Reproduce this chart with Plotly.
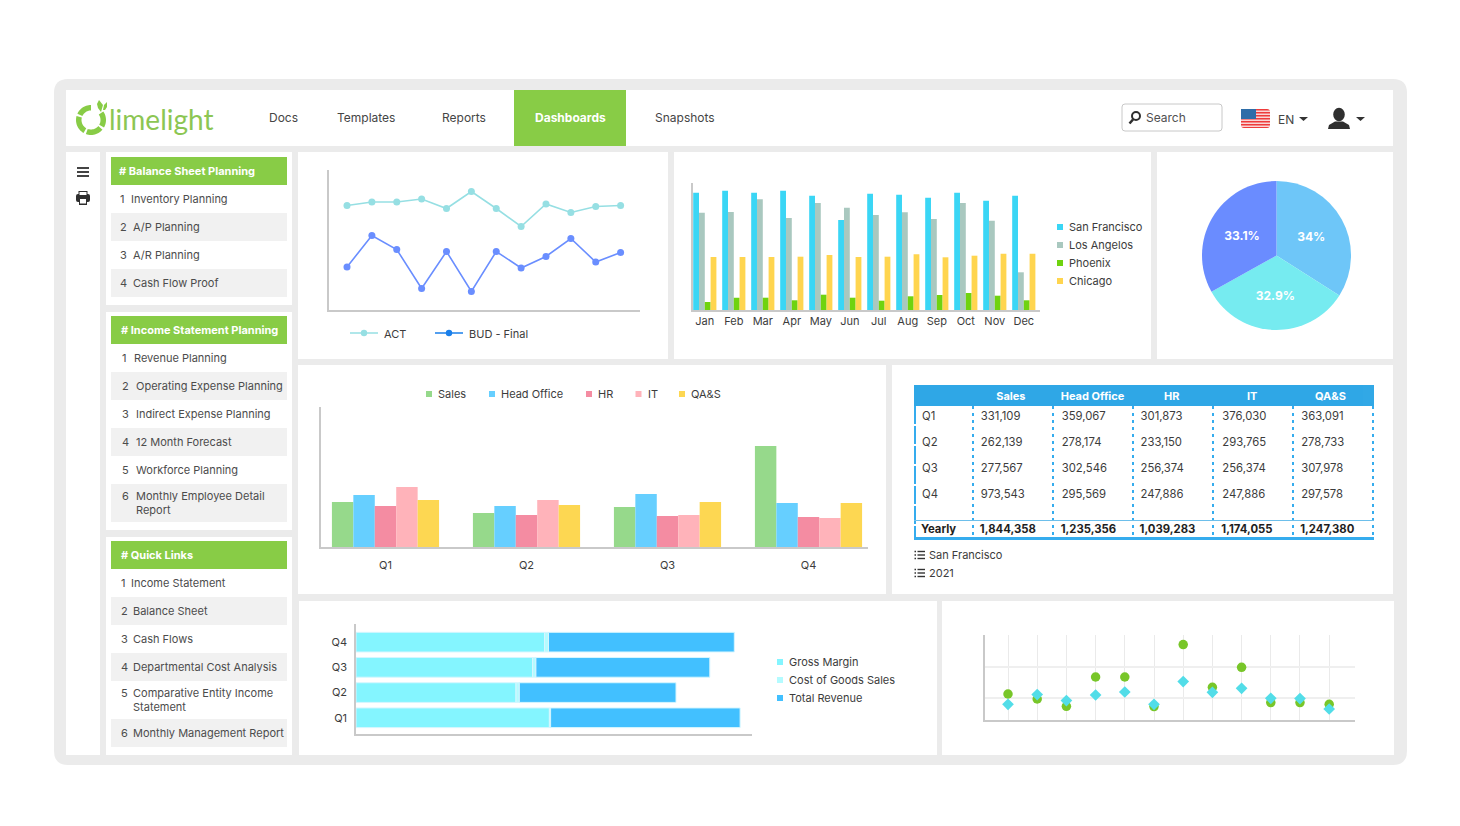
import math
import plotly.graph_objects as go

W = 1440
H = 800
FONT = "Inter"

months = ["Jan", "Feb", "Mar", "Apr", "May", "Jun", "Jul", "Aug", "Sep", "Oct", "Nov", "Dec"]
quarters = ["Q1", "Q2", "Q3", "Q4"]

act = [104, 107.5, 107.5, 110.5, 101, 118, 101, 83, 105.5, 97, 103, 104]
bud = [42.5, 74, 60, 21, 58, 18, 58, 41.5, 53, 71, 47.5, 57]

san_francisco = [117.3, 119.3, 117.3, 119.3, 114.3, 90, 116.3, 115.3, 112.3, 117.3, 109.3, 114.3]
los_angelos = [97.3, 98, 110.7, 92, 107, 102.3, 95, 97.7, 91, 107, 89.3, 37.7]
phoenix = [8, 12.3, 12.3, 9.7, 15.3, 12.3, 9.3, 13.7, 15, 17, 14.3, 9.7]
chicago = [53, 53, 53, 53.3, 55, 53, 53.3, 55.7, 52.7, 54.3, 56.3, 56.3]

pie_labels = ["Blue", "Teal", "Indigo"]
pie_values = [34, 32.9, 33.1]
pie_text = ["34%", "32.9%", "33.1%"]

sales = [45, 34, 40, 101]
head_office = [52, 41, 53, 44]
hr = [41, 32, 31, 30]
it = [60, 47, 32, 29]
qas = [47, 42, 45, 44]

table_head = ["", "Sales", "Head\u00a0Office", "HR", "IT", "QA&S"]
table_rows = ["Q1", "Q2", "Q3", "Q4"]
table_sales = ["331,109", "262,139", "277,567", "973,543"]
table_head_office = ["359,067", "278,174", "302,546", "295,569"]
table_hr = ["301,873", "233,150", "256,374", "247,886"]
table_it = ["376,030", "293,765", "256,374", "247,886"]
table_qas = ["363,091", "278,733", "307,978", "297,578"]
table_yearly = ["Yearly", "1,844,358", "1,235,356", "1,039,283", "1,174,055", "1,247,380"]

gross_margin = [193.4, 160, 176.5, 188.5]
cost_of_goods = [1.2, 3.3, 3.4, 4]
total_revenue = [189.5, 156.7, 173.9, 185.8]

scatter_x = list(range(12))
scatter_circle = [26.3, 21.3, 14, 43.3, 43.3, 13.7, 75.7, 33, 53, 17.7, 17.7, 16]
scatter_diamond = [16, 25.7, 19.7, 25.3, 28.3, 16, 38.7, 28, 32, 22, 21.7, 11.3]

nav_items = ["Docs", "Templates", "Reports", "Dashboards", "Snapshots"]
nav_x = [269, 337, 442, 535, 655]

group1 = [("1", "Inventory Planning"), ("2", "A/P Planning"), ("3", "A/R Planning"), ("4", "Cash Flow Proof")]
group2 = [("1", "Revenue Planning"), ("2", "Operating Expense Planning"), ("3", "Indirect Expense Planning"),
          ("4", "12 Month Forecast"), ("5", "Workforce Planning"), ("6", "Monthly Employee Detail<br>Report")]
group3 = [("1", "Income Statement"), ("2", "Balance Sheet"), ("3", "Cash Flows"),
          ("4", "Departmental Cost Analysis"), ("5", "Comparative Entity Income<br>Statement"),
          ("6", "Monthly Management Report")]

GREEN = "#88CC46"
FRAME = "#EBEBEB"
ROW = "#F1F1F1"
AXIS = "#C9C9C9"
TEXT = "#3C3C3C"
BLUE = "#2FA7E6"

shapes = []
annots = []


# page is opened with an 8px body margin, everything below is in page pixels
def X(px):
    return (px - 8) / W


def Y(py):
    return 1 - (py - 8) / H


def rect(x0, y0, x1, y1, color, layer="below"):
    shapes.append(dict(type="rect", xref="paper", yref="paper", x0=X(x0), x1=X(x1), y0=Y(y0), y1=Y(y1),
                       fillcolor=color, line_width=0, layer=layer))


def rrect(x0, y0, x1, y1, r, fill, line=None, layer="below"):
    p = (f"M {X(x0 + r)} {Y(y0)} L {X(x1 - r)} {Y(y0)} Q {X(x1)} {Y(y0)} {X(x1)} {Y(y0 + r)} "
         f"L {X(x1)} {Y(y1 - r)} Q {X(x1)} {Y(y1)} {X(x1 - r)} {Y(y1)} L {X(x0 + r)} {Y(y1)} "
         f"Q {X(x0)} {Y(y1)} {X(x0)} {Y(y1 - r)} L {X(x0)} {Y(y0 + r)} Q {X(x0)} {Y(y0)} {X(x0 + r)} {Y(y0)} Z")
    shapes.append(dict(type="path", xref="paper", yref="paper", path=p, fillcolor=fill,
                       line=dict(color=line or fill, width=1 if line else 0), layer=layer))


def poly(points, color, layer="above"):
    p = "M " + " L ".join(f"{X(a)} {Y(b)}" for a, b in points) + " Z"
    shapes.append(dict(type="path", xref="paper", yref="paper", path=p, fillcolor=color, line_width=0, layer=layer))


def line(x0, y0, x1, y1, color, width=1, dash="solid", layer="above"):
    shapes.append(dict(type="line", xref="paper", yref="paper", x0=X(x0), x1=X(x1), y0=Y(y0), y1=Y(y1),
                       line=dict(color=color, width=width, dash=dash), layer=layer))


def oval(cx, cy, rx, ry, fill, stroke=None, width=0, layer="above"):
    shapes.append(dict(type="circle", xref="paper", yref="paper", x0=X(cx - rx), x1=X(cx + rx),
                       y0=Y(cy - ry), y1=Y(cy + ry), fillcolor=fill,
                       line=dict(color=stroke or fill, width=width), layer=layer))


def arc(cx, cy, r0, r1, a0, a1, color):
    steps = 14
    angles = [a0 + (a1 - a0) * i / steps for i in range(steps + 1)]
    pts = [(cx + r1 * math.cos(math.radians(a)), cy - r1 * math.sin(math.radians(a))) for a in angles]
    pts += [(cx + r0 * math.cos(math.radians(a)), cy - r0 * math.sin(math.radians(a))) for a in reversed(angles)]
    poly(pts, color)


def text(x, y, s, size=11.3, color=TEXT, bold=False, anchor="left", family=FONT, weight=None):
    annots.append(dict(x=X(x), y=Y(y), xref="paper", yref="paper", text=s, showarrow=False, xanchor=anchor,
                       yanchor="middle", borderpad=0, borderwidth=0, align="left",
                       font=dict(family=family, size=size, color=color,
                                 weight=weight if weight else (700 if bold else 400))))


def legend_square(x, y, label, color):
    rect(x, y - 3, x + 6, y + 3, color)
    text(x + 12, y, label, size=11)


# page frame and cards
rrect(54, 79, 1407, 765, 14, FRAME)
for x0, y0, x1, y1 in [(66, 90, 1393, 146), (66, 152, 100, 755), (106, 152, 292, 305), (106, 312, 292, 530),
                       (106, 537, 292, 755), (298, 152, 668, 359), (674, 152, 1151, 359), (1157, 152, 1393, 359),
                       (298, 365, 886, 594), (892, 365, 1393, 594), (299, 601, 937, 755), (942, 601, 1394, 755)]:
    rect(x0, y0, x1, y1, "white")

# top bar
rect(514, 90, 626, 146, GREEN)
for name, x in zip(nav_items, nav_x):
    if name == "Dashboards":
        text(x, 118, name, size=12, color="white", bold=True)
    else:
        text(x, 118, name, size=12, color="#454545")

# logo
arc(91, 120, 9.5, 15, 90, 155, GREEN)
arc(91, 120, 9.5, 15, 165, 240, GREEN)
arc(91, 120, 9.5, 15, 250, 320, GREEN)
arc(91, 120, 9.5, 15, 330, 395, GREEN)
poly([(99, 100), (103, 105), (101, 112), (98, 108), (97, 104)], GREEN)
poly([(103, 110), (104, 105), (107, 102), (107, 107), (105, 110)], GREEN)
text(109, 119, "limelight", size=28, color="#8CC653", family="Lato", weight=400)

# search, flag, user
rrect(1122, 104, 1222, 131, 3, "white", line="#C8C8C8", layer="above")
oval(1136, 116, 4, 4, "white", stroke="#2E2E2E", width=2)
line(1133, 119.5, 1129.5, 123.5, "#2E2E2E", width=2.5)
text(1146, 118, "Search", size=12, color="#505050")
rrect(1241, 109, 1270, 128, 3, "#EE3B3B", layer="above")
for k in range(6):
    rect(1241, 110.5 + k * 3, 1270, 112 + k * 3, "#F9D5D5", layer="above")
rect(1241, 109, 1256, 119, "#2E6DA8", layer="above")
text(1278, 119, "EN", size=12, color="#454545")
poly([(1299, 117), (1308, 117), (1303.5, 121)], "#333333")
oval(1339, 114.5, 5.8, 6.8, "#2F2F2F")
poly([(1328, 129), (1329, 125), (1335, 121.5), (1343, 121.5), (1349, 125), (1350, 129)], "#2F2F2F")
poly([(1356, 117), (1365, 117), (1360.5, 121)], "#333333")

# rail icons
for yy in [168, 172, 176]:
    rect(77, yy - 0.9, 89, yy + 0.9, "#2F2F2F", layer="above")
rrect(76, 194, 90, 202, 2, "#2F2F2F", layer="above")
rect(78.5, 191, 87.5, 195, "#2F2F2F", layer="above")
rect(79.5, 192, 86.5, 195, "white", layer="above")
rect(79, 198, 87, 205, "#2F2F2F", layer="above")
rect(80, 199, 86, 203.5, "white", layer="above")


# sidebar groups
def side_group(top, header, header_x, anchor, items, num_x, label_x, tall):
    rect(111, top, 287, top + 28, GREEN)
    text(header_x, top + 14, header, size=11, color="white", bold=True, anchor=anchor)
    yy = top + 28
    for i, (num, label) in enumerate(items):
        h = 38 if tall == i else 28
        if i % 2 == 1:
            rect(111, yy, 287, yy + h, ROW)
        lx = label_x if i > 0 else label_x - 2
        text(num_x, yy + (12 if tall == i else h / 2), num, size=11, color="#4C4C4C")
        text(lx, yy + h / 2, label, size=11, color="#4C4C4C")
        yy += h


side_group(157, "# Balance Sheet Planning", 119, "left", group1, 120, 133, -1)
side_group(316, "# Income Statement Planning", 121, "left", group2, 122, 135.5, 5)
side_group(541, "# Quick Links", 121, "left", group3, 120.5, 133, 4)

# line chart legend
line(350, 333, 378, 333, "#96DFE3", width=1.5)
oval(364, 333, 3.2, 3.2, "#96DFE3")
text(384, 334, "ACT", size=11)
line(435, 333, 463, 333, "#1A7FEA", width=1.5)
oval(449, 333, 3.2, 3.2, "#1A7FEA")
text(469, 334, "BUD - Final", size=11)

# month bars legend
for yy, label, color in zip([227, 245, 263, 281], ["San Francisco", "Los Angelos", "Phoenix", "Chicago"],
                            ["#3AD6F5", "#A9C8BF", "#6FD30F", "#FFD54F"]):
    legend_square(1057, yy, label, color)

# quarter bars legend
for x, label, color in zip([426, 489, 586, 635.5, 679], ["Sales", "Head Office", "HR", "IT", "QA&S"],
                           ["#96D98B", "#66CFFF", "#F48CA2", "#FFB3BA", "#FDD752"]):
    legend_square(x, 394, label, color)

# stacked bars legend
for yy, label, color in zip([662, 680, 698], ["Gross Margin", "Cost of Goods Sales", "Total Revenue"],
                            ["#84F5FF", "#B4FBFF", "#42C0FF"]):
    legend_square(777, yy, label, color)

# table header band and rules, the table text sits a little low in its cells
rect(914, 385, 1374, 406, BLUE)
for xx in [973, 1053, 1133, 1213, 1293, 1373]:
    line(xx, 406, xx, 537, "#35ACEE", width=2, dash="3px,4px")
line(915, 406, 915, 537, "#35ACEE", width=2, dash="18px,2px")
line(914, 520.5, 1374, 520.5, "#6DBFEB", width=1)
rect(914, 537, 1374, 540, "#35ACEE", layer="above")

# list icons under the table
for yy in [555, 573]:
    for d in [-3.5, 0, 3.5]:
        rect(914.5, yy + d - 0.8, 916, yy + d + 0.8, "#333333", layer="above")
        rect(917.5, yy + d - 0.7, 925, yy + d + 0.7, "#333333", layer="above")
text(929, 555, "San Francisco", size=11)
text(929, 573, "2021", size=11)

traces = []

traces.append(go.Scatter(x=months, y=act, name="ACT", mode="lines+markers", xaxis="x", yaxis="y",
                         line=dict(color="#96DFE3", width=1.6), marker=dict(color="#96DFE3", size=7)))
traces.append(go.Scatter(x=months, y=bud, name="BUD - Final", mode="lines+markers", xaxis="x", yaxis="y",
                         line=dict(color="#6A8EFF", width=1.6), marker=dict(color="#6A8EFF", size=7)))

for name, vals, color in [("San Francisco", san_francisco, "#3AD6F5"), ("Los Angelos", los_angelos, "#A9C8BF"),
                          ("Phoenix", phoenix, "#6FD30F"), ("Chicago", chicago, "#FFD54F")]:
    traces.append(go.Bar(x=months, y=vals, name=name, marker=dict(color=color, line_width=0), xaxis="x2", yaxis="y2"))

traces.append(go.Pie(labels=pie_labels, values=pie_values, text=pie_text, textinfo="text", sort=False,
                     direction="clockwise", rotation=0, textposition="inside", insidetextorientation="horizontal",
                     marker=dict(colors=["#6EC6F8", "#76EBF0", "#6A8CFF"], line_width=0),
                     textfont=dict(family=FONT, size=12, color="white", weight=700),
                     domain=dict(x=[X(1202), X(1351)], y=[Y(330), Y(181)])))

for name, vals, color in [("Sales", sales, "#96D98B"), ("Head Office", head_office, "#66CFFF"), ("HR", hr, "#F48CA2"),
                          ("IT", it, "#FFB3BA"), ("QA&S", qas, "#FDD752")]:
    traces.append(go.Bar(x=quarters, y=vals, name=name, marker=dict(color=color, line_width=0), xaxis="x3", yaxis="y3"))

for name, vals, color in [("Gross Margin", gross_margin, "#84F5FF"), ("Cost of Goods Sales", cost_of_goods, "#B4FBFF"),
                          ("Total Revenue", total_revenue, "#42C0FF")]:
    traces.append(go.Bar(y=quarters, x=vals, name=name, orientation="h", xaxis="x4", yaxis="y4",
                         marker=dict(color=color, line=dict(color="#D6F6FF", width=1))))

traces.append(go.Scatter(x=scatter_x, y=scatter_circle, mode="markers", xaxis="x5", yaxis="y5",
                         marker=dict(color="#78C629", size=9.5, symbol="circle")))
traces.append(go.Scatter(x=scatter_x, y=scatter_diamond, mode="markers", xaxis="x5", yaxis="y5",
                         marker=dict(color="#52DDE8", size=9, symbol="diamond")))

# header, quarter rows and yearly totals are three header-only tables,
# plotly keeps the first row of a body too far down otherwise
col_widths = [59, 81, 79, 82, 79, 80]
columns = [table_rows, table_sales, table_head_office, table_hr, table_it, table_qas]
clear = "rgba(0,0,0,0)"
traces.append(go.Table(
    domain=dict(x=[X(914), X(1363.6)], y=[Y(411), Y(380.5)]),
    columnwidth=[59, 76, 88, 70, 91.4, 65.2],
    header=dict(values=[f"<b>{h}</b>" for h in table_head], fill_color=clear, line_width=0, height=21,
                align="center", font=dict(family=FONT, size=11, color="white"))))
traces.append(go.Table(
    domain=dict(x=[X(914), X(1374)], y=[Y(516), Y(403.5)]),
    columnwidth=col_widths,
    header=dict(values=columns, fill_color=clear, line_width=0, height=26, align="left",
                font=dict(family=FONT, size=11.3, color=TEXT))))
traces.append(go.Table(
    domain=dict(x=[X(913), X(1373)], y=[Y(544), Y(514)]),
    columnwidth=col_widths,
    header=dict(values=[f"<b>{v}</b>" for v in table_yearly], fill_color=clear, line_width=0, height=26,
                align="left", font=dict(family=FONT, size=11.3, color="#1E1E1E"))))


def axis_x(l, r, rng, anchor, labels=True, standoff=6, grid=False, **kw):
    return dict(domain=[X(l), X(r)], range=rng, anchor=anchor, showline=True, linecolor=AXIS, linewidth=kw.pop("lw", 1.5),
                showgrid=grid, zeroline=False, showticklabels=labels, ticks="outside" if labels else "",
                ticklen=standoff, tickcolor="rgba(0,0,0,0)", tickfont=dict(family=FONT, size=11, color=TEXT),
                fixedrange=True, **kw)


def axis_y(t, b, rng, anchor, labels=False, **kw):
    return dict(domain=[Y(b), Y(t)], range=rng, anchor=anchor, showline=True, linecolor=AXIS, linewidth=1.5,
                showgrid=False, zeroline=False, showticklabels=labels, ticks="outside" if labels else "",
                ticklen=5, tickcolor="rgba(0,0,0,0)", tickfont=dict(family=FONT, size=11, color=TEXT),
                fixedrange=True, **kw)


layout = go.Layout(
    width=W,
    height=H,
    autosize=False,
    margin=dict(l=0, r=0, t=0, b=0, pad=0),
    paper_bgcolor="white",
    plot_bgcolor="rgba(0,0,0,0)",
    showlegend=False,
    barmode="group",
    font=dict(family=FONT, color=TEXT),
    shapes=shapes,
    annotations=annots,
    xaxis=axis_x(328.5, 640, [-0.744, 11.78], "y", labels=False, type="category"),
    yaxis=axis_y(170, 309.5, [0, 139.5], "x"),
    xaxis2=axis_x(692.5, 1040, [-0.424, 11.559], "y2", standoff=0, type="category", lw=2),
    yaxis2=axis_y(183, 310, [0, 127], "x2"),
    xaxis3=axis_x(320.5, 868, [-0.461, 3.422], "y3", standoff=7, type="category", lw=2),
    yaxis3=axis_y(407, 547, [0, 140], "x3"),
    xaxis4=axis_x(356, 752, [0, 396], "y4", labels=False),
    yaxis4=axis_y(624, 734.3, [-0.655, 3.72], "x4", labels=True, type="category"),
    xaxis5=dict(domain=[X(984.5), X(1355)], range=[-0.805, 11.884], anchor="y5", showline=True, linecolor=AXIS,
                linewidth=1.5, showgrid=True, gridcolor="#EAEAEA", gridwidth=1, tickvals=scatter_x, zeroline=False,
                showticklabels=False, fixedrange=True),
    yaxis5=dict(domain=[Y(720.3), Y(635)], range=[0, 85.3], anchor="x5", showline=True, linecolor=AXIS, linewidth=1.5,
                showgrid=True, gridcolor="#EFEFEF", gridwidth=1.5, tickvals=[22, 53], zeroline=False,
                showticklabels=False, fixedrange=True),
)

fig = go.Figure(data=traces, layout=layout)

# the three bar panels use different group settings, so widths and offsets are set per panel
fig.update_traces(selector=dict(xaxis="x4"), width=0.78)
stack_base = [0, 0, 0, 0]
for tr in fig.data:
    if tr.type == "bar" and tr.xaxis == "x4":
        tr.base = list(stack_base)
        tr.offset = -0.39
        stack_base = [a + b for a, b in zip(stack_base, tr.x)]

fig.update_traces(selector=dict(xaxis="x2"), width=0.2)
for k, tr in enumerate([t for t in fig.data if t.type == "bar" and t.xaxis == "x2"]):
    tr.offset = -0.4 + k * 0.2
fig.update_traces(selector=dict(xaxis="x3"), width=0.152)
for k, tr in enumerate([t for t in fig.data if t.type == "bar" and t.xaxis == "x3"]):
    tr.offset = -0.38 + k * 0.152

fig.write_html("out.html")
